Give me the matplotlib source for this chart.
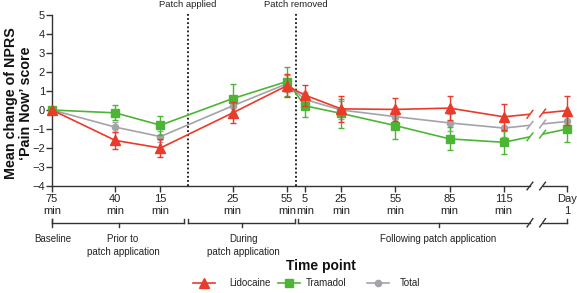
import numpy as np
import matplotlib
matplotlib.use("Agg")
import matplotlib.pyplot as plt
from matplotlib.lines import Line2D

plt.rcParams['font.family'] = ['Liberation Sans', 'DejaVu Sans']

# ---------------- data ----------------
# time in minutes relative to patch application (Day 1 placed after axis break)
time_pos = [-75, -40, -15, 25, 55, 65, 85, 115, 145, 175, 210]
tick_labels = ["75\nmin", "40\nmin", "15\nmin", "25\nmin", "55\nmin", "5\nmin",
               "25\nmin", "55\nmin", "85\nmin", "115\nmin", "Day\n1"]

lido_mean = [0, -1.6, -2.0, -0.15, 1.28, 0.78, 0.06, 0.03, 0.10, -0.36, -0.03]
lido_err = [0, 0.45, 0.45, 0.55, 0.6, 0.55, 0.7, 0.6, 0.65, 0.7, 0.75]

tram_mean = [0, -0.15, -0.8, 0.6, 1.5, 0.22, -0.18, -0.82, -1.52, -1.7, -1.0]
tram_err = [0, 0.4, 0.5, 0.75, 0.75, 0.6, 0.75, 0.7, 0.6, 0.6, 0.7]

total_mean = [0, -0.9, -1.4, 0.22, 1.38, 0.55, 0.0, -0.35, -0.68, -0.95, -0.6]
total_err = [0, 0.28, 0.3, 0.45, 0.45, 0.4, 0.45, 0.45, 0.45, 0.45, 0.5]

series_names = ["Lidocaine", "Tramadol", "Total"]

# ---------------- style ----------------
RED = "#ea3a2a"
GREEN = "#4db535"
GRAY = "#a3a3ab"
AX_COL = "#333333"

W, H = 577, 293
fig = plt.figure(figsize=(W / 100, H / 100), dpi=100)

left_px, right_px, top_px, bot_px = 52, 567, 15, 186
ax = fig.add_axes([left_px / W, 1 - bot_px / H, (right_px - left_px) / W, (bot_px - top_px) / H])
ax.set_xlim(-75, 210)
ax.set_ylim(-4, 5)

BR0, BR1 = 189.5, 196.5  # axis break

styles = [
    (total_mean, total_err, GRAY, 'o', 4.5, 3),
    (tram_mean, tram_err, GREEN, 's', 5.5, 4),
    (lido_mean, lido_err, RED, '^', 6.5, 5),
]
for m, e, c, mk, ms, z in styles:
    ax.errorbar(time_pos, m, yerr=e, color=c, marker=mk, markersize=ms,
                linewidth=1.2, elinewidth=1.0, capsize=2.5, capthick=1.0,
                zorder=z, clip_on=False)

# break: hide lines between BR0 and BR1
ax.axvspan(BR0, BR1, color='white', zorder=6, linewidth=0)
sdx, sdy = 1.6, 0.2
for m, e, c, mk, ms, z in styles:
    for bx in (BR0, BR1):
        by = np.interp(bx, time_pos, m)
        ax.plot([bx - sdx, bx + sdx], [by - sdy, by + sdy], color=c, lw=1.1,
                zorder=7, clip_on=False)

# spines
for s in ['top', 'right', 'bottom']:
    ax.spines[s].set_visible(False)
ax.spines['left'].set_color(AX_COL)
ax.spines['left'].set_linewidth(1.0)
ax.plot([-75, BR0], [-4, -4], color=AX_COL, lw=1.0, clip_on=False, zorder=8)
ax.plot([BR1, 210], [-4, -4], color=AX_COL, lw=1.0, clip_on=False, zorder=8)
for bx in (BR0, BR1):
    ax.plot([bx - sdx, bx + sdx], [-4 - sdy, -4 + sdy], color=AX_COL, lw=1.0,
            clip_on=False, zorder=8)

ax.set_yticks(range(-4, 6))
ax.set_xticks(time_pos)
ax.set_xticklabels(tick_labels)
ax.tick_params(axis='both', direction='out', length=4, width=1.0, color=AX_COL,
               labelsize=8, labelcolor='#222222', pad=2)
ax.tick_params(axis='y', pad=1)

# dotted vertical lines
for vx, lab in [(0, "Patch applied"), (60, "Patch removed")]:
    ax.plot([vx, vx], [-4, 5.1], color='#111111', lw=1.3, linestyle=(0, (1, 1.3)),
            clip_on=False, zorder=2)
    ax.text(vx, 5.55, lab, ha='center', va='center', fontsize=6.8, color='#222222')

# group brackets (x in data, y in axes fraction)
tr = ax.get_xaxis_transform()
by = -0.215
tk = 0.024
kw = dict(color=AX_COL, lw=1.0, clip_on=False, transform=tr)
ax.plot([-75, -75], [by - tk, by + tk], **kw)
segments = [(-75, -2, -38), (0.5, 59.3, 30), (61, 210, 139)]
for a, b, c in segments:
    if b > BR1:
        ax.plot([a, BR0], [by, by], **kw)
        ax.plot([BR1, b], [by, by], **kw)
        for bx in (BR0, BR1):
            ax.plot([bx - sdx, bx + sdx], [by - tk, by + tk], **kw)
    else:
        ax.plot([a, b], [by, by], **kw)
    ax.plot([a, a], [by, by + tk], **kw)
    ax.plot([b, b], [by, by + tk], **kw)
    ax.plot([c, c], [by, by - tk], **kw)

# overlay for text in pixel coords
ov = fig.add_axes([0, 0, 1, 1])
ov.set_xlim(0, W)
ov.set_ylim(H, 0)
ov.axis('off')
ov.patch.set_visible(False)

tc = '#222222'
ov.text(52.5, 239, "Baseline", ha='center', va='center', fontsize=7, color=tc)
ov.text(123, 239, "Prior to", ha='center', va='center', fontsize=7, color=tc)
ov.text(123, 252, "patch application", ha='center', va='center', fontsize=7, color=tc)
ov.text(243, 239, "During", ha='center', va='center', fontsize=7, color=tc)
ov.text(243.5, 252, "patch application", ha='center', va='center', fontsize=7, color=tc)
ov.text(438, 239, "Following patch application", ha='center', va='center', fontsize=7, color=tc)
ov.text(321, 266, "Time point", ha='center', va='center', fontsize=10,
        fontweight='bold', color='#111111')

ov.text(11, 103, "Mean change of NPRS", ha='center', va='center', rotation=90,
        fontsize=10.3, fontweight='bold', color='#111111')
ov.text(26, 103, "\u2018Pain Now\u2019 score", ha='center', va='center', rotation=90,
        fontsize=10.3, fontweight='bold', color='#111111')

# legend
leg = [(204, 229, RED, '^', 6.5), (289, 306, GREEN, 's', 5.5), (378, 400, GRAY, 'o', 4.5)]
for (hx, tx, c, mk, ms), name in zip(leg, series_names):
    ov.add_line(Line2D([hx - 11, hx + 11], [283, 283], color=c, lw=1.2))
    ov.add_line(Line2D([hx], [283], color=c, marker=mk, markersize=ms, lw=0))
    ov.text(tx, 283, name, ha='left', va='center', fontsize=7, color=tc)

fig.savefig("out.png", dpi=100)
